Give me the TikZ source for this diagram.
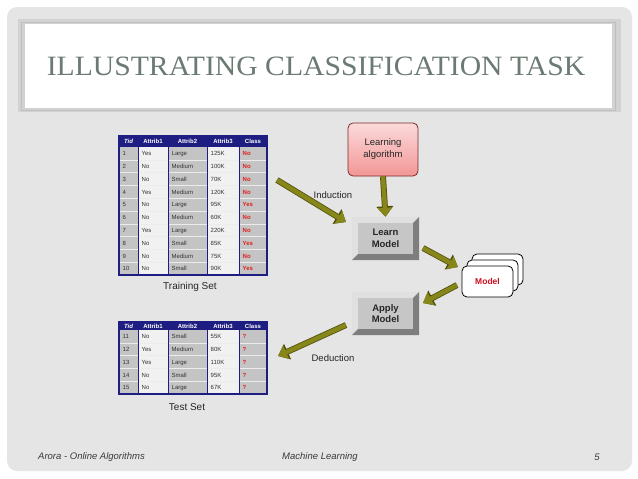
\documentclass[tikz,border=0pt]{standalone}
\usepackage{fontspec}
\setmainfont{Liberation Sans}
\newfontfamily\titlefont{Liberation Serif}
\usetikzlibrary{arrows.meta}
\definecolor{slidebg}{HTML}{E5E5E5}
\definecolor{framegray}{HTML}{D2D2D2}
\definecolor{titlegray}{HTML}{6B7A72}
\definecolor{navy}{HTML}{1E1E82}
\definecolor{cellgray}{HTML}{C4C4C4}
\definecolor{celllight}{HTML}{F1F1F1}
\definecolor{celltext}{HTML}{333333}
\definecolor{classred}{HTML}{E02020}
\definecolor{olivec}{HTML}{86861A}
\definecolor{olivedk}{HTML}{4E4E08}
\definecolor{pinktop}{HTML}{FCDADA}
\definecolor{pinkbot}{HTML}{F29696}
\definecolor{maroonb}{HTML}{7A2A2A}
\definecolor{modelred}{HTML}{CC1020}
\definecolor{btnface}{HTML}{C6C6C6}
\definecolor{btnlight}{HTML}{E0E0E0}
\definecolor{btndark}{HTML}{7E7E7E}
\definecolor{foottext}{HTML}{3A3A3A}
\tikzset{
  cell/.style={anchor=base west, inner sep=0pt, font=\fontsize{6}{7}\selectfont, text=celltext},
  cellred/.style={cell, text=classred, font=\fontsize{6}{7}\selectfont\bfseries},
  head/.style={inner sep=0pt, anchor=base, font=\fontsize{6}{7}\selectfont\bfseries, text=white},
  caption/.style={inner sep=0pt, font=\fontsize{10}{12}\selectfont, text=black!85},
  lbl/.style={inner sep=0pt, font=\fontsize{9.5}{11}\selectfont, text=black!85},
  btn/.style={fill=btnface, minimum width=67pt, minimum height=43pt, inner sep=0pt,
    align=center, font=\fontsize{9.5}{11.5}\selectfont\bfseries, text=black!85},
  modelbox/.style={draw=black, line width=0.8pt, fill=white, rounded corners=5pt,
    minimum width=51pt, minimum height=31pt, inner sep=0pt},
  bigarrow/.style={line width=4.5pt, draw=olivec, -{Triangle[length=9pt,width=14pt]},
    preaction={draw=olivedk, line width=6pt, -{Triangle[length=10.5pt,width=16.5pt]}}},
  foot/.style={inner sep=0pt, font=\fontsize{9.5}{11}\selectfont\itshape, text=foottext}
}
\begin{document}
\begin{tikzpicture}[x=1pt,y=-1pt]
\useasboundingbox (0,0) rectangle (638,479);
\fill[white] (0,0) rectangle (638,479);
% slide
\fill[slidebg, rounded corners=10pt] (7,7) rectangle (632,471);
\fill[framegray] (18,19) rectangle (621,112);
\draw[black!25, line width=0.6pt] (21,22) rectangle (615,110);
\fill[white] (25,24) rectangle (612,108);
\node[inner sep=0pt, text=titlegray, xscale=1.06, font=\titlefont\fontsize{28}{30}\selectfont] (title) at (316,66) {ILLUSTRATING CLASSIFICATION TASK};

% ---------- training table ----------
\def\ttop{136}\def\thh{11}\def\tp{12.8}
\fill[navy] (119,\ttop) rectangle (267,\ttop+\thh);
\foreach \xa/\xb/\cc in {119/138/cellgray,138/168/celllight,168/207/cellgray,207/239/celllight,239/267/cellgray}
  \fill[\cc] (\xa,\ttop+\thh) rectangle (\xb,\ttop+\thh+10*\tp);
\foreach \i in {1,...,9}
  \draw[white!85!gray, line width=0.5pt] (119,\ttop+\thh+\i*\tp) -- (267,\ttop+\thh+\i*\tp);
\foreach \xx in {138,168,207,239}
  \draw[navy, line width=0.9pt] (\xx,\ttop) -- (\xx,\ttop+\thh+10*\tp);
\draw[navy, line width=1.3pt] (119,\ttop) rectangle (267,\ttop+\thh+10*\tp);
\node[head] (trh1) at (128.5,\ttop+\thh/2+2.2) {\itshape Tid};
\node[head] (trh2) at (153,\ttop+\thh/2+2.2) {Attrib1};
\node[head] (trh3) at (187.5,\ttop+\thh/2+2.2) {Attrib2};
\node[head] (trh4) at (223,\ttop+\thh/2+2.2) {Attrib3};
\node[head] (trh5) at (253,\ttop+\thh/2+2.2) {Class};
\foreach \a/\b/\c/\d/\e [count=\i] in {1/Yes/Large/125K/No,2/No/Medium/100K/No,3/No/Small/70K/No,4/Yes/Medium/120K/No,5/No/Large/95K/Yes,6/No/Medium/60K/No,7/Yes/Large/220K/No,8/No/Small/85K/Yes,9/No/Medium/75K/No,10/No/Small/90K/Yes}{
  \pgfmathsetmacro\yy{\ttop+\thh+(\i-0.5)*\tp+2.2}
  \node[cell] (tr\i a) at (122.5,\yy) {\a};
  \node[cell] (tr\i b) at (141.5,\yy) {\b};
  \node[cell] (tr\i c) at (171.5,\yy) {\c};
  \node[cell] (tr\i d) at (210.5,\yy) {\d};
  \node[cellred] (tr\i e) at (242.5,\yy) {\e};
}
\node[caption] (trainlbl) at (190,287) {Training Set};

% ---------- test table ----------
\def\stop{322}\def\shh{8}\def\sp{12.8}
\fill[navy] (119,\stop) rectangle (267,\stop+\shh);
\foreach \xa/\xb/\cc in {119/138/cellgray,138/168/celllight,168/207/cellgray,207/239/celllight,239/267/cellgray}
  \fill[\cc] (\xa,\stop+\shh) rectangle (\xb,\stop+\shh+5*\sp);
\foreach \i in {1,...,4}
  \draw[white!85!gray, line width=0.5pt] (119,\stop+\shh+\i*\sp) -- (267,\stop+\shh+\i*\sp);
\foreach \xx in {138,168,207,239}
  \draw[navy, line width=0.9pt] (\xx,\stop) -- (\xx,\stop+\shh+5*\sp);
\draw[navy, line width=1.3pt] (119,\stop) rectangle (267,\stop+\shh+5*\sp);
\node[head] (tsh1) at (128.5,\stop+\shh/2+2.2) {\itshape Tid};
\node[head] (tsh2) at (153,\stop+\shh/2+2.2) {Attrib1};
\node[head] (tsh3) at (187.5,\stop+\shh/2+2.2) {Attrib2};
\node[head] (tsh4) at (223,\stop+\shh/2+2.2) {Attrib3};
\node[head] (tsh5) at (253,\stop+\shh/2+2.2) {Class};
\foreach \a/\b/\c/\d [count=\i] in {11/No/Small/55K,12/Yes/Medium/80K,13/Yes/Large/110K,14/No/Small/95K,15/No/Large/67K}{
  \pgfmathsetmacro\yy{\stop+\shh+(\i-0.5)*\sp+2.2}
  \node[cell] (ts\i a) at (122.5,\yy) {\a};
  \node[cell] (ts\i b) at (141.5,\yy) {\b};
  \node[cell] (ts\i c) at (171.5,\yy) {\c};
  \node[cell] (ts\i d) at (210.5,\yy) {\d};
  \node[cellred] (ts\i e) at (242.5,\yy) {?};
}
\node[caption] (testlbl) at (187,407) {Test Set};

% ---------- learning algorithm ----------
\node[draw=maroonb, line width=0.8pt, rounded corners=5pt, top color=pinktop, bottom color=pinkbot,
  minimum width=70pt, minimum height=53pt, inner sep=0pt, align=center,
  font=\fontsize{9.5}{12}\selectfont, text=black!85] (algo) at (383,149.5) {Learning\\algorithm};

% ---------- buttons ----------
\node[btn] (learn) at (385.5,238.5) {Learn\\Model};
\node[btn] (apply) at (385.5,313.5) {Apply\\Model};
\foreach \b in {learn,apply}{
  \fill[btnlight] (\b.north west) -- (\b.north east) -- ([shift={(-6,6)}]\b.north east)
    -- ([shift={(6,6)}]\b.north west) -- ([shift={(6,-6)}]\b.south west) -- (\b.south west) -- cycle;
  \fill[btndark] (\b.south east) -- (\b.south west) -- ([shift={(6,-6)}]\b.south west)
    -- ([shift={(-6,-6)}]\b.south east) -- ([shift={(-6,6)}]\b.north east) -- (\b.north east) -- cycle;
}

% ---------- model stack ----------
\node[modelbox] (model3) at (497.5,269.5) {};
\node[modelbox] (model2) at (492.5,275.5) {};
\node[modelbox, font=\fontsize{8.5}{10}\selectfont\bfseries, text=modelred] (model) at (487.5,281.5) {Model};

% ---------- arrows ----------
\coordinate (indS) at (277,180);
\coordinate (indE) at (346,222);
\coordinate (dedS) at (346,325);
\coordinate (dedE) at (278,356);
\coordinate (lmS) at (423,248);
\coordinate (lmE) at (458,267);
\coordinate (maS) at (457,285);
\coordinate (maE) at (423,303);
\draw[bigarrow] (algo.south) -- (learn.north);
\draw[bigarrow] (indS) -- (indE);
\draw[bigarrow] (lmS) -- (lmE);
\draw[bigarrow] (maS) -- (maE);
\draw[bigarrow] (dedS) -- (dedE);
\node[lbl] (induction) at (333,195) {Induction};
\node[lbl] (deduction) at (333,358) {Deduction};

% ---------- footer ----------
\node[foot, anchor=west] (f1) at (38,457) {Arora - Online Algorithms};
\node[foot] (f2) at (320,457) {Machine Learning};
\node[foot] (f3) at (597,457) {5};
\end{tikzpicture}
\end{document}
